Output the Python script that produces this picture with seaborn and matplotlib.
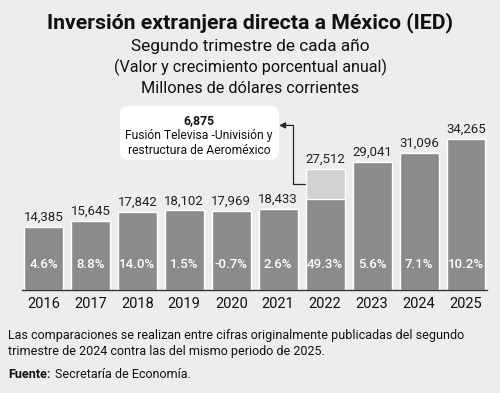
import seaborn as sns
import pandas as pd
import matplotlib.pyplot as plt
from matplotlib.patches import FancyBboxPatch

# datos
years = ["2016", "2017", "2018", "2019", "2020", "2021", "2022", "2023", "2024", "2025"]
values = [14385, 15645, 17842, 18102, 17969, 18433, 27512, 29041, 31096, 34265]
growth = ["4.6%", "8.8%", "14.0%", "1.5%", "-0.7%", "2.6%", "49.3%", "5.6%", "7.1%", "10.2%"]
extra_year = "2022"
extra_value = 6875

bg = "#ededed"
dark = "#8b8b8d"
light = "#d2d2d3"

df = pd.DataFrame({"year": years, "total": values, "growth": growth})
df["base"] = [v - extra_value if y == extra_year else v for y, v in zip(years, values)]

sns.set_style("white")
plt.rcParams["font.family"] = ["Roboto", "DejaVu Sans"]

fig = plt.figure(figsize=(5, 3.93), dpi=100, facecolor=bg)
ax = fig.add_axes([0.044, 0.262, 0.93, 0.448])
ax.set_facecolor(bg)

sns.barplot(data=df, x="year", y="total", color=light, saturation=1, width=0.83, ax=ax)
sns.barplot(data=df, x="year", y="base", color=dark, saturation=1, width=0.83, ax=ax)

ax.set_xlim(-0.457, 9.447)
ax.set_ylim(0, 40000)

for i, row in df.iterrows():
    ax.text(i, row["total"] + 700, f"{row['total']:,}", ha="center", va="bottom",
            fontsize=9.5, color="#222222")
    ax.text(i, 5900, row["growth"], ha="center", va="center", fontsize=9.5,
            color="white", fontweight="medium")

for s in ["top", "right", "left"]:
    ax.spines[s].set_visible(False)
ax.spines["bottom"].set_color("#333333")
ax.spines["bottom"].set_linewidth(1.0)
ax.set_yticks([])
ax.set_xlabel("")
ax.set_ylabel("")
ax.tick_params(axis="x", length=0, pad=5, labelsize=10.5, labelcolor="#111111")

# anotación 2022
i22 = years.index(extra_year)
y_mid = values[i22] - extra_value / 2
ax.plot([i22 - 0.44, i22 - 0.69, i22 - 0.69], [y_mid, y_mid, 37400],
        color="#222222", lw=0.9, clip_on=False)
ax.annotate("", xy=(i22 - 0.98, 37400), xytext=(i22 - 0.69, 37400),
            arrowprops=dict(arrowstyle="-|>", color="#222222", lw=0.9,
                            shrinkA=0, shrinkB=0, mutation_scale=9), annotation_clip=False)
fig.patches.append(FancyBboxPatch((0.244, 0.597), 0.31, 0.13, transform=fig.transFigure,
                                  boxstyle="round,pad=0.004,rounding_size=0.02",
                                  facecolor="white", edgecolor="none", zorder=0))
fig.text(0.398, 0.693, "6,875", ha="center", va="center", fontsize=8.8, fontweight="bold", color="#111111")
fig.text(0.398, 0.654, "Fusión Televisa -Univisión y", ha="center", va="center", fontsize=8.7, color="#111111")
fig.text(0.398, 0.616, "restructura de Aeroméxico", ha="center", va="center", fontsize=8.7, color="#111111")

# títulos
fig.text(0.5, 0.942, "Inversión extranjera directa a México (IED)", ha="center", va="center",
         fontsize=15.3, fontweight="bold", color="#111111")
fig.text(0.5, 0.881, "Segundo trimestre de cada año", ha="center", va="center", fontsize=12.4, color="#111111")
fig.text(0.5, 0.828, "(Valor y crecimiento porcentual anual)", ha="center", va="center", fontsize=11.6, color="#111111")
fig.text(0.5, 0.776, "Millones de dólares corrientes", ha="center", va="center", fontsize=11.7, color="#111111")

# notas
fig.text(0.016, 0.125, "Las comparaciones se realizan entre cifras originalmente publicadas del segundo\n"
         "trimestre de 2024 contra las del mismo periodo de 2025.", ha="left", va="center",
         fontsize=9.0, color="#111111", linespacing=1.3)
fig.text(0.016, 0.048, "Fuente:", ha="left", va="center", fontsize=9.0, fontweight="bold", color="#111111")
fig.text(0.11, 0.048, "Secretaría de Economía.", ha="left", va="center", fontsize=9.0, color="#111111")

fig.savefig("out.png", dpi=100, facecolor=bg)
